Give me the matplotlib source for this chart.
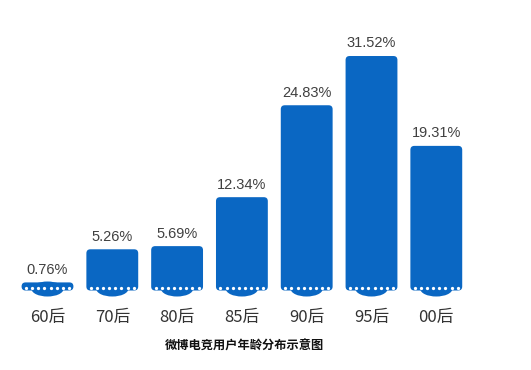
import numpy as np
import matplotlib
matplotlib.use("Agg")
import matplotlib.pyplot as plt
from matplotlib.patches import FancyBboxPatch, Ellipse

plt.rcParams['font.family'] = ['Noto Sans CJK SC', 'DejaVu Sans']

categories = ["60后", "70后", "80后", "85后", "90后", "95后", "00后"]
values = [0.76, 5.26, 5.69, 12.34, 24.83, 31.52, 19.31]
title = "微博电竞用户年龄分布示意图"

BLUE = "#0a67c3"
W, H, DPI = 531, 370, 100

fig = plt.figure(figsize=(W / DPI, H / DPI), dpi=DPI)
ax = fig.add_axes([0, 0, 1, 1])
ax.set_axis_off()

# pixel scale: one category step ~64.8 px, one percent ~7.36 px
px_x = 64.8
px_y = 7.36
x0_px, y0_px = 47.5, 288
ax.set_xlim(-x0_px / px_x, (W - x0_px) / px_x)
ax.set_ylim(-(H - y0_px) / px_y, y0_px / px_y)

bw = 0.80
below = 2.5 / px_y          # rectangle extends slightly under the baseline
radius = 4.0 / px_x
aspect = px_x / px_y

x = np.arange(len(categories))
bars = ax.bar(x, values, width=bw, color="none", edgecolor="none")

for xi, bar, v, cat in zip(x, bars, values, categories):
    left = bar.get_x()
    bottom = -below
    height = v + below
    box = FancyBboxPatch((left, bottom), bw, height,
                         boxstyle=f"round,pad=0,rounding_size={radius}",
                         mutation_aspect=aspect,
                         facecolor=BLUE, edgecolor="none", zorder=2)
    ax.add_patch(box)
    # shallow rounded tab under the bar
    ax.add_patch(Ellipse((xi, bottom + 1.5 / px_y), 32 / px_x, 15 / px_y,
                         facecolor=BLUE, edgecolor="none", zorder=2))
    # perforation dots along the baseline
    dx = np.linspace(left + 4.5 / px_x, left + bw - 4.5 / px_x, 8)
    ax.scatter(dx, np.full_like(dx, 0.05), s=5.5, marker="o",
               color="white", linewidths=0, zorder=3)
    ax.text(xi, v + 0.75, f"{v:.2f}%", ha="center", va="bottom",
            fontsize=10.5, color="#404040", family=["Liberation Sans", "DejaVu Sans"])
    ax.text(xi, -29 / px_y, cat, ha="center", va="center",
            fontsize=12, color="#333333")

ax.text((244 - x0_px) / px_x, -(346 - y0_px) / px_y, title,
        ha="center", va="center", fontsize=8.8, fontweight="bold", color="#111111")

fig.savefig("out.png", dpi=DPI)
